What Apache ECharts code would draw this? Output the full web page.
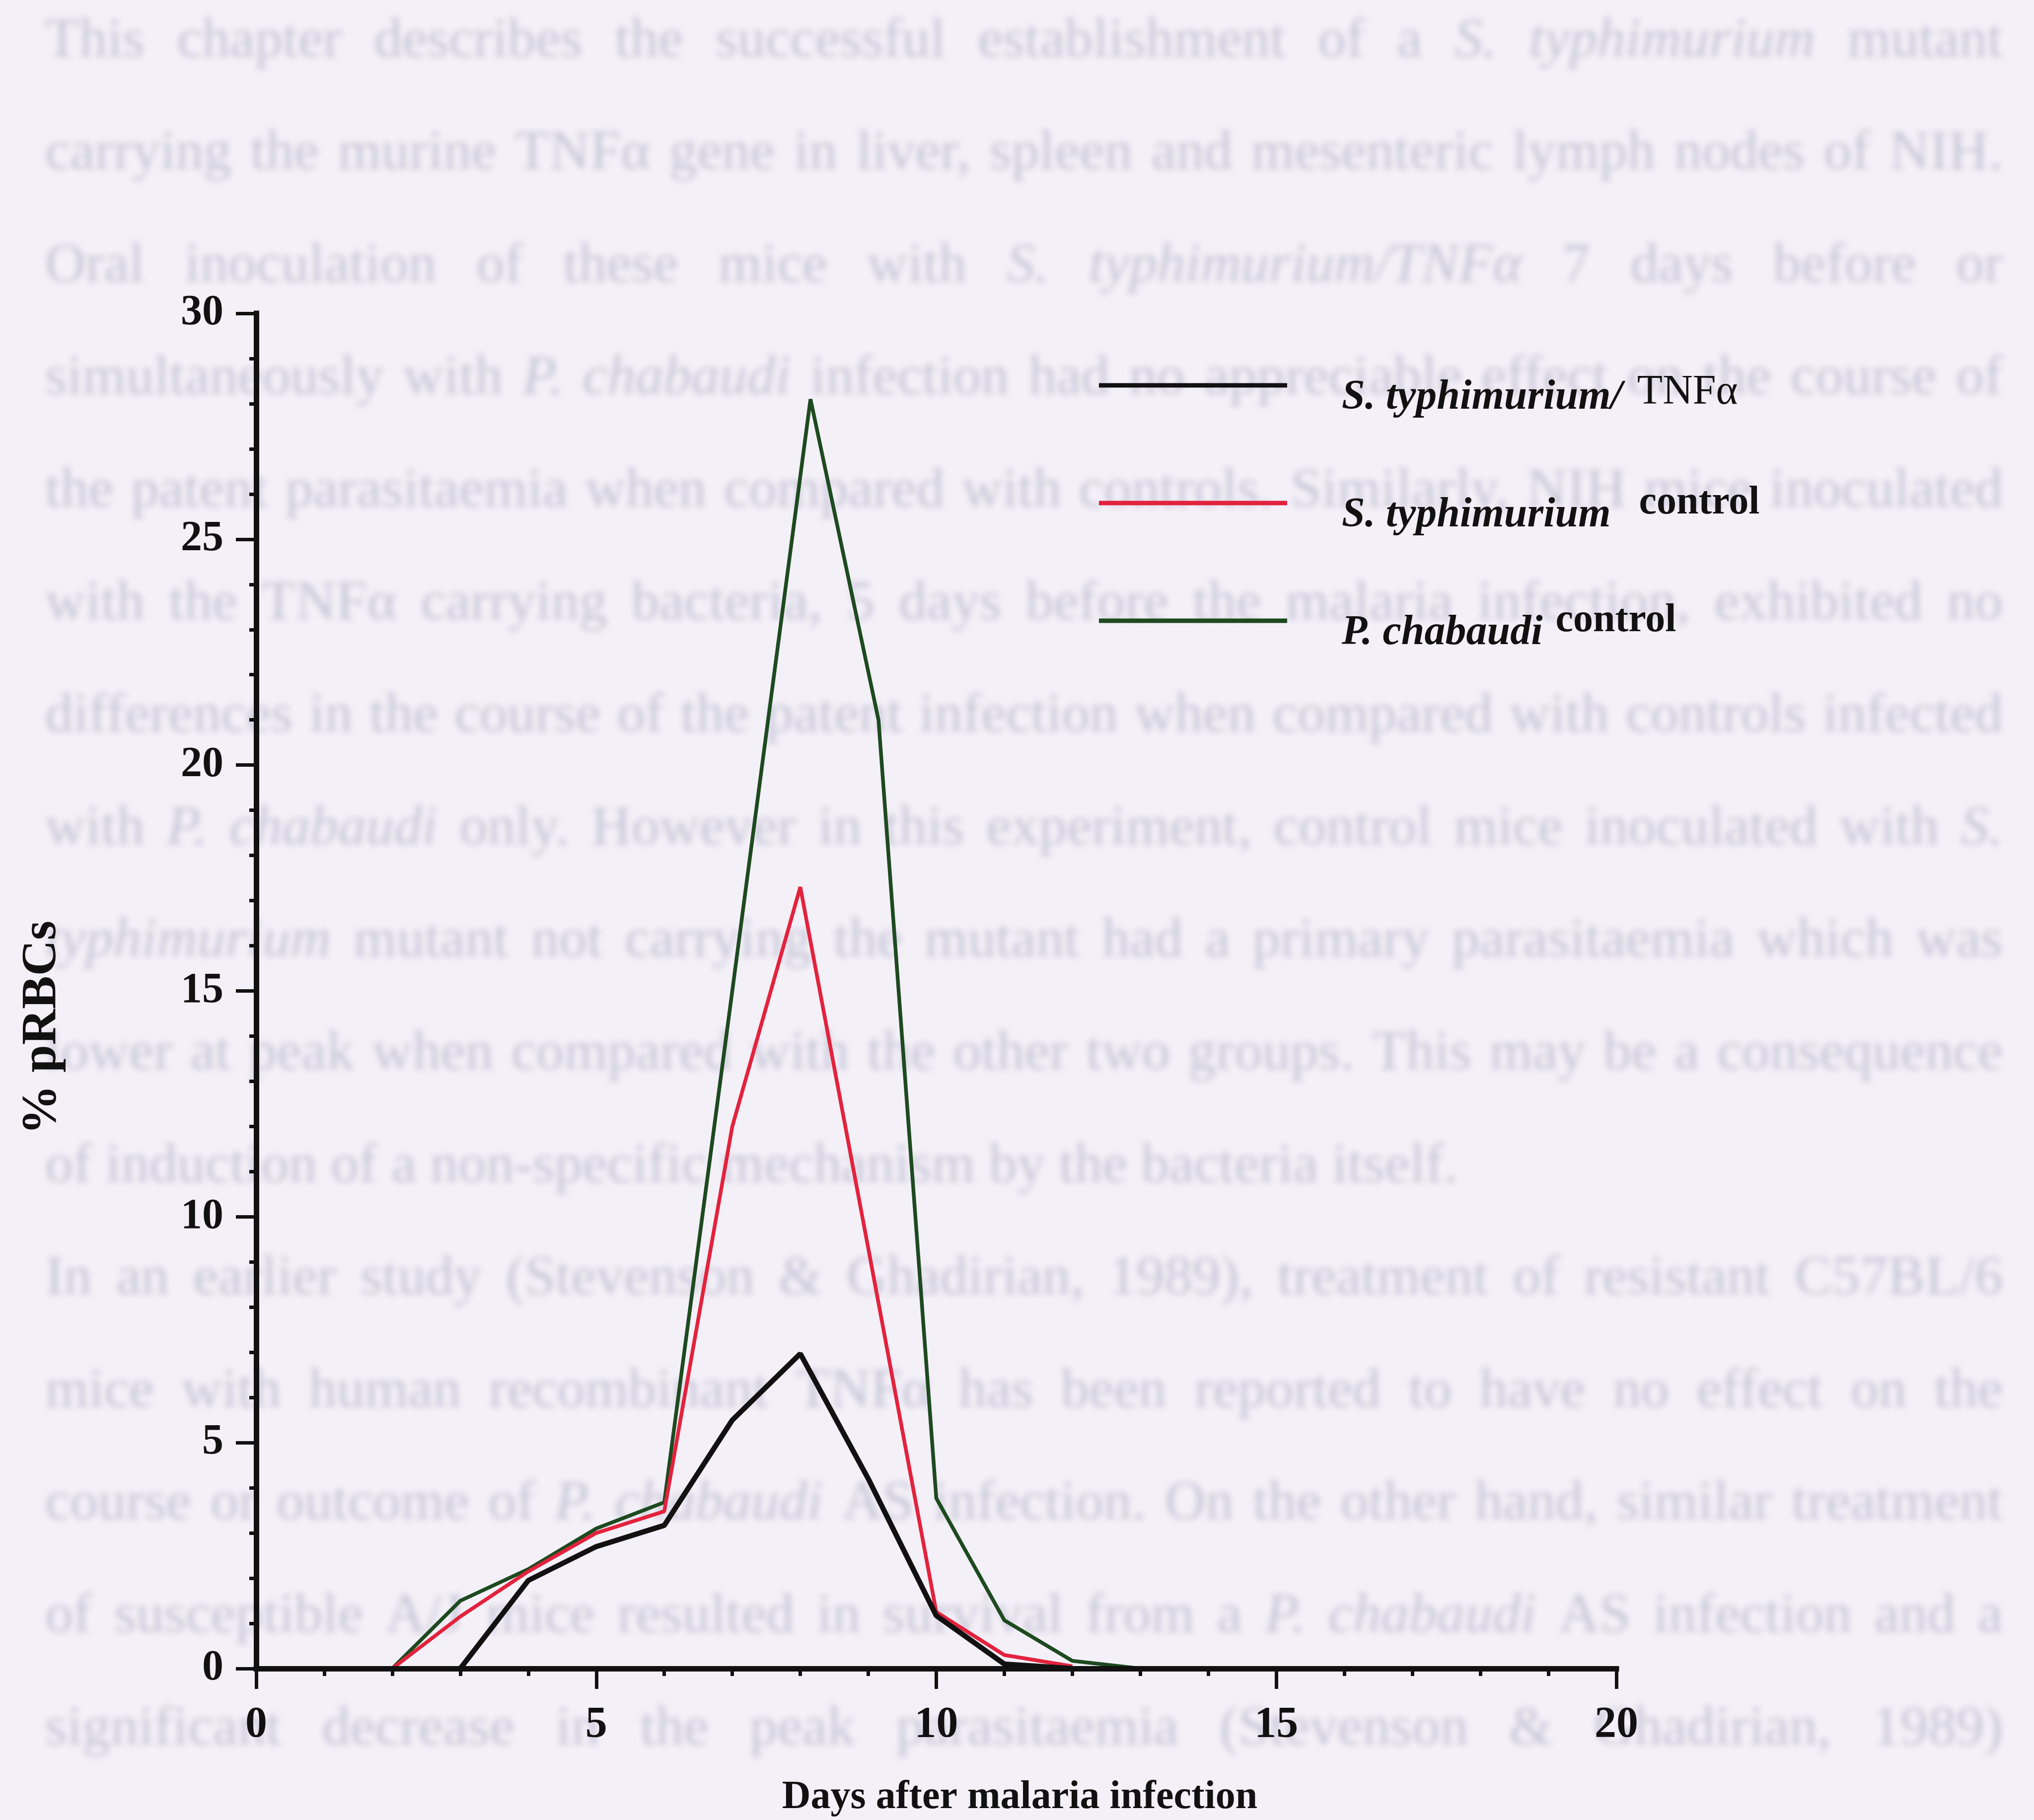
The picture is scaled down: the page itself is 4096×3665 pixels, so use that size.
<!DOCTYPE html>
<html>
<head>
<meta charset="utf-8">
<script src="https://cdn.jsdelivr.net/npm/echarts@6/dist/echarts.min.js"></script>
<style>
  html, body { margin: 0; padding: 0; background: #f4f0f8; }
  #chart { width: 4096px; height: 3665px; }
</style>
</head>
<body>
<div id="chart"></div>
<script>
// ---- data: % parasitised red blood cells by day after malaria infection ----
const seriesNames = ['S. typhimurium/ TNFα', 'S. typhimurium control', 'P. chabaudi control'];

const tnfDays   = [3, 4, 5, 6, 7, 8, 9, 10, 11, 12];
const tnfValues = [0, 1.95, 2.7, 3.17, 5.5, 6.97, 4.2, 1.17, 0.1, 0];

const stmDays   = [2, 3, 4, 5, 6, 7, 8, 9, 10, 11, 12];
const stmValues = [0, 1.15, 2.15, 3.0, 3.48, 12.0, 17.3, 9.3, 1.25, 0.3, 0.05];

const pcDays    = [2, 3, 4, 5, 6, 7, 8.15, 9.15, 10, 11, 12, 13];
const pcValues  = [0, 1.5, 2.2, 3.1, 3.68, 15.0, 28.1, 21.0, 3.77, 1.07, 0.17, 0];

const dayRange  = [0, 20];   // x axis, labelled every 5 days
const dayStep   = 5;
const pctRange  = [0, 30];   // y axis, labelled every 5 %
const pctStep   = 5;

// ---- page text printed behind the figure ----
// words starting with "~" are set in italics
const pageText = [
  'This chapter describes the successful establishment of a ~S. ~typhimurium mutant',
  'carrying the murine TNFα gene in liver, spleen and mesenteric lymph nodes of NIH.',
  'Oral inoculation of these mice with ~S. ~typhimurium/TNFα 7 days before or',
  'simultaneously with ~P. ~chabaudi infection had no appreciable effect on the course of',
  'the patent parasitaemia when compared with controls. Similarly, NIH mice inoculated',
  'with the TNFα carrying bacteria, 5 days before the malaria infection, exhibited no',
  'differences in the course of the patent infection when compared with controls infected',
  'with ~P. ~chabaudi only. However in this experiment, control mice inoculated with ~S.',
  '~typhimurium mutant not carrying the mutant had a primary parasitaemia which was',
  'lower at peak when compared with the other two groups. This may be a consequence',
  'of induction of a non-specific mechanism by the bacteria itself.',
  'In an earlier study (Stevenson & Ghadirian, 1989), treatment of resistant C57BL/6',
  'mice with human recombinant TNFα has been reported to have no effect on the',
  'course or outcome of ~P. ~chabaudi AS infection. On the other hand, similar treatment',
  'of susceptible A/J mice resulted in survival from a ~P. ~chabaudi AS infection and a',
  'significant decrease in the peak parasitaemia (Stevenson & Ghadirian, 1989)'
];
const paragraphEnds = [10];   // lines that are not justified

// ---- layout ----
const SERIF = '"Liberation Serif", "Times New Roman", serif';
const INK = '#111111';
const PAGE = { left: 91, right: 4033, firstRow: 84, rowStep: 226.6, ghost: '#c5c5d6', blur: 13 };
// the page text shows through the paper, so only its blurred shadow is painted:
// each word sits far off to the left and its shadow is thrown back into place
const SHIFT = 20000;

function buildPageText() {
  const ctx = document.createElement('canvas').getContext('2d');
  const fontOf = (italic, size) => (italic ? 'italic ' : '') + size + 'px ' + SERIF;
  // size the type so a paragraph-ending line has its natural width
  ctx.font = fontOf(false, 100);
  const natural = ctx.measureText(pageText[10].replace(/~/g, '')).width;
  const size = 100 * 2845 / natural;
  ctx.font = fontOf(false, size);
  const spaceW = ctx.measureText(' ').width;
  const els = [];
  pageText.forEach((line, row) => {
    const words = line.split(' ').map(w => ({ italic: w[0] === '~', text: w.replace(/^~/, '') }));
    words.forEach(w => { ctx.font = fontOf(w.italic, size); w.width = ctx.measureText(w.text).width; });
    const total = words.reduce((s, w) => s + w.width, 0);
    const gap = paragraphEnds.includes(row) ? spaceW
      : (PAGE.right - PAGE.left - total) / (words.length - 1);
    let x = PAGE.left;
    const y = PAGE.firstRow + row * PAGE.rowStep;
    words.forEach(w => {
      els.push({
        type: 'text', x: x - SHIFT, y: y, z: -10, silent: true,
        style: {
          text: w.text, font: fontOf(w.italic, size), fill: '#000',
          align: 'left', verticalAlign: 'middle',
          textAlign: 'left', textVerticalAlign: 'middle',
          textShadowBlur: PAGE.blur, textShadowColor: PAGE.ghost,
          textShadowOffsetX: SHIFT, textShadowOffsetY: 0,
          shadowBlur: PAGE.blur, shadowColor: PAGE.ghost,
          shadowOffsetX: SHIFT, shadowOffsetY: 0
        }
      });
      x += w.width + gap;
    });
  });
  return els;
}

const pairs = (xs, ys) => xs.map((x, i) => [x, ys[i]]);

const chart = echarts.init(document.getElementById('chart'), null, { renderer: 'canvas', width: 4096, height: 3665 });

const legendText = {
  'S. typhimurium/ TNFα': '{it|S. typhimurium/}{tnf|TNFα}',
  'S. typhimurium control': '{it|S. typhimurium}{c2|control}',
  'P. chabaudi control': '{it|P. chabaudi}{c3|control}'
};

chart.setOption({
  animation: false,
  backgroundColor: '#f4f0f8',
  graphic: { elements: buildPageText() },
  grid: { left: 516, right: 841, top: 631, bottom: 302, containLabel: false },
  legend: {
    orient: 'vertical', left: 2213, top: 749, padding: 0,
    itemWidth: 379, itemHeight: 9, itemGap: 130, icon: 'rect', selectedMode: false,
    data: seriesNames,
    formatter: name => legendText[name],
    textStyle: {
      color: INK,
      rich: {
        it:  { fontFamily: SERIF, fontStyle: 'italic', fontWeight: 'bold', fontSize: 84, color: INK,
               verticalAlign: 'middle', padding: [50, 0, 0, 105] },
        tnf: { fontFamily: SERIF, fontWeight: 'normal', fontSize: 84, color: INK,
               verticalAlign: 'middle', padding: [30, 0, 0, 30] },
        c2:  { fontFamily: SERIF, fontWeight: 'bold', fontSize: 80, color: INK,
               verticalAlign: 'middle', padding: [0, 0, 0, 57] },
        c3:  { fontFamily: SERIF, fontWeight: 'bold', fontSize: 80, color: INK,
               verticalAlign: 'middle', padding: [0, 0, 0, 26] }
      }
    }
  },
  xAxis: {
    type: 'value', min: dayRange[0], max: dayRange[1], interval: dayStep, z: 10,
    axisLine: { onZero: false, lineStyle: { color: INK, width: 11, cap: 'square' } },
    axisTick: { show: true, inside: false, length: 41, lineStyle: { color: INK, width: 7 } },
    minorTick: { show: true, splitNumber: 5, length: 15, lineStyle: { color: INK, width: 7 } },
    splitLine: { show: false },
    axisLabel: { margin: 70, color: INK, fontFamily: SERIF, fontWeight: 'bold', fontSize: 88 },
    name: 'Days after malaria infection', nameLocation: 'middle', nameGap: 220,
    nameTextStyle: { color: INK, fontFamily: SERIF, fontWeight: 'bold', fontSize: 80, padding: [0, 0, 0, 336] }
  },
  yAxis: {
    type: 'value', min: pctRange[0], max: pctRange[1], interval: pctStep, z: 10,
    axisLine: { show: true, lineStyle: { color: INK, width: 11, cap: 'square' } },
    axisTick: { show: true, inside: false, length: 41, lineStyle: { color: INK, width: 7 } },
    minorTick: { show: true, splitNumber: 5, length: 14, lineStyle: { color: INK, width: 7 } },
    splitLine: { show: false },
    axisLabel: { margin: 66, color: INK, fontFamily: SERIF, fontWeight: 'bold', fontSize: 86 },
    name: '% pRBCs', nameLocation: 'middle', nameGap: 381,
    nameTextStyle: { color: INK, fontFamily: SERIF, fontWeight: 'bold', fontSize: 100, padding: [0, 148, 0, 0] }
  },
  series: [
    { name: seriesNames[2], type: 'line', data: pairs(pcDays, pcValues), symbol: 'none',
      lineStyle: { color: '#1d4a1f', width: 7.5 }, itemStyle: { color: '#1d4a1f' }, z: 3 },
    { name: seriesNames[1], type: 'line', data: pairs(stmDays, stmValues), symbol: 'none',
      lineStyle: { color: '#e3223d', width: 7.5 }, itemStyle: { color: '#e3223d' }, z: 4 },
    { name: seriesNames[0], type: 'line', data: pairs(tnfDays, tnfValues), symbol: 'none',
      lineStyle: { color: '#111111', width: 10.5 }, itemStyle: { color: '#111111' }, z: 5 }
  ]
});
</script>
</body>
</html>
